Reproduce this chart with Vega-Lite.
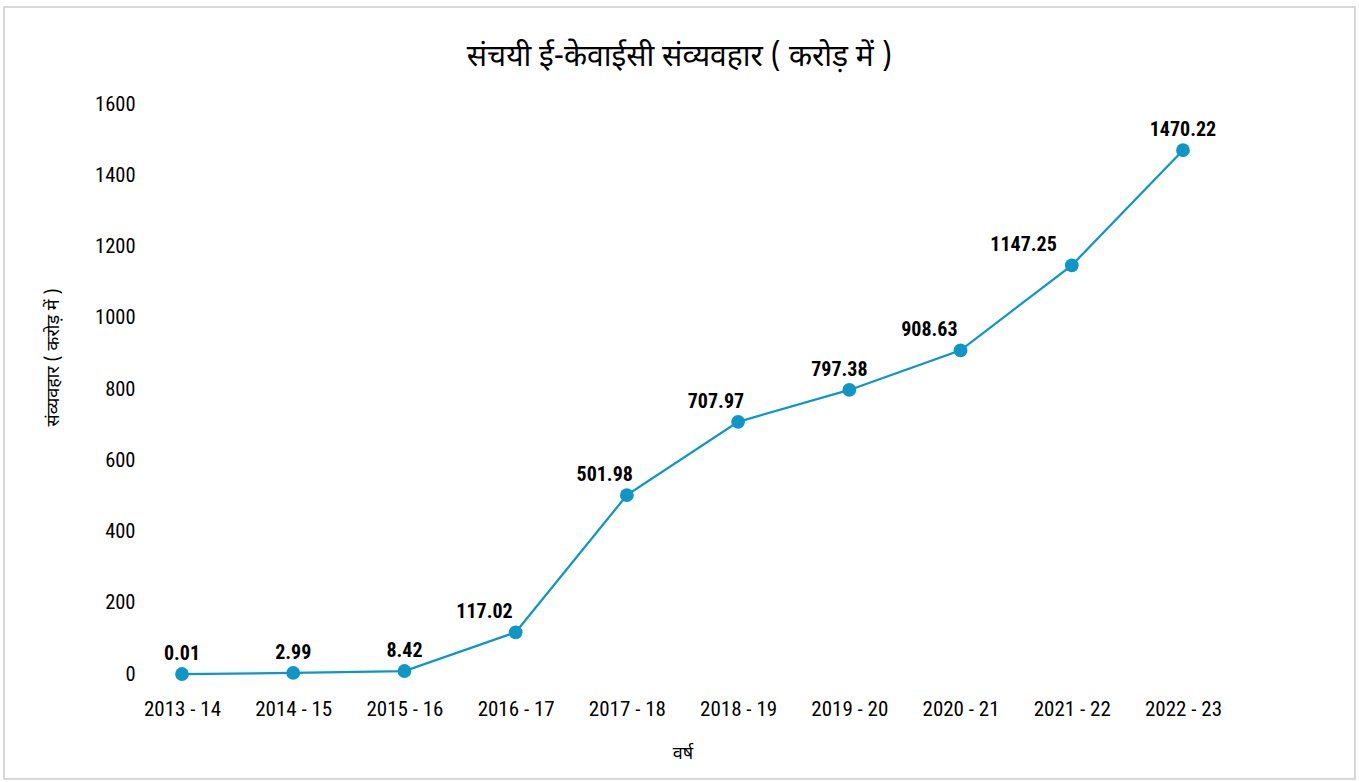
{
  "$schema": "https://vega.github.io/schema/vega-lite/v6.json",
  "width": 1351,
  "height": 772,
  "autosize": {"type": "none"},
  "padding": {"left": 4, "top": 7, "right": 4, "bottom": 3},
  "background": "white",
  "config": {
    "view": {"stroke": "#D9D9D9", "strokeWidth": 2},
    "font": "Roboto Condensed, Liberation Sans Narrow, Arial Narrow, DejaVu Sans Condensed, Roboto, sans-serif"
  },
  "title": {
    "text": "संचयी ई-केवाईसी संव्यवहार ( करोड़ में )",
    "fontSize": 30,
    "fontWeight": "normal",
    "color": "#000000",
    "font": "Noto Sans Devanagari, Noto Sans, sans-serif",
    "anchor": "middle",
    "offset": -65
  },
  "data": {
    "values": [
      {"year": "2013 - 14", "value": 0.01},
      {"year": "2014 - 15", "value": 2.99},
      {"year": "2015 - 16", "value": 8.42},
      {"year": "2016 - 17", "value": 117.02},
      {"year": "2017 - 18", "value": 501.98},
      {"year": "2018 - 19", "value": 707.97},
      {"year": "2019 - 20", "value": 797.38},
      {"year": "2020 - 21", "value": 908.63},
      {"year": "2021 - 22", "value": 1147.25},
      {"year": "2022 - 23", "value": 1470.22}
    ]
  },
  "encoding": {
    "x": {
      "field": "year",
      "type": "ordinal",
      "sort": null,
      "scale": {"type": "point", "range": [178, 1179], "padding": 0},
      "axis": {
        "title": "वर्ष",
        "titleFont": "Noto Sans Devanagari, Noto Sans, sans-serif",
        "titleFontSize": 18,
        "titleFontWeight": "normal",
        "titleColor": "#000000",
        "labelAngle": 0,
        "labelFontSize": 21,
        "labelColor": "#000000",
        "labelPadding": 0,
        "domain": false,
        "ticks": false,
        "grid": false,
        "offset": -81,
        "titlePadding": 25
      }
    },
    "y": {
      "field": "value",
      "type": "quantitative",
      "scale": {"domain": [-294.7, 1872.3], "nice": false, "zero": false},
      "axis": {
        "title": "संव्यवहार ( करोड़ में )",
        "titleFont": "Noto Sans Devanagari, Noto Sans, sans-serif",
        "titleFontSize": 18,
        "titleFontWeight": "normal",
        "titleColor": "#000000",
        "titleX": -87,
        "titleY": 350,
        "titleAngle": -90,
        "titleAlign": "center",
        "titleBaseline": "middle",
        "values": [0, 200, 400, 600, 800, 1000, 1200, 1400, 1600],
        "format": "d",
        "labelFontSize": 20.5,
        "labelColor": "#000000",
        "labelPadding": 5,
        "domain": false,
        "ticks": false,
        "grid": false,
        "offset": -136
      }
    }
  },
  "layer": [
    {"mark": {"type": "line", "color": "#0E96C6", "strokeWidth": 2.25}},
    {"mark": {"type": "point", "filled": true, "opacity": 1, "color": "#0E96C6", "size": 190}},
    {
      "transform": [{"filter": {"field": "year", "oneOf": ["2013 - 14", "2014 - 15", "2015 - 16", "2022 - 23"]}}],
      "mark": {"type": "text", "fontWeight": "bold", "fontSize": 20, "baseline": "bottom", "align": "center", "dy": -10, "color": "#000000"},
      "encoding": {"text": {"field": "value", "type": "quantitative", "format": ".2f"}}
    },
    {
      "transform": [{"filter": {"field": "year", "oneOf": ["2019 - 20"]}}],
      "mark": {"type": "text", "fontWeight": "bold", "fontSize": 20, "baseline": "bottom", "align": "center", "dy": -10, "dx": -10, "color": "#000000"},
      "encoding": {"text": {"field": "value", "type": "quantitative", "format": ".2f"}}
    },
    {
      "transform": [{"filter": {"field": "year", "oneOf": ["2016 - 17", "2020 - 21"]}}],
      "mark": {"type": "text", "fontWeight": "bold", "fontSize": 20, "baseline": "bottom", "align": "right", "dy": -10, "dx": -3, "color": "#000000"},
      "encoding": {"text": {"field": "value", "type": "quantitative", "format": ".2f"}}
    },
    {
      "transform": [{"filter": {"field": "year", "oneOf": ["2017 - 18", "2018 - 19"]}}],
      "mark": {"type": "text", "fontWeight": "bold", "fontSize": 20, "baseline": "bottom", "align": "right", "dy": -10, "dx": 6, "color": "#000000"},
      "encoding": {"text": {"field": "value", "type": "quantitative", "format": ".2f"}}
    },
    {
      "transform": [{"filter": {"field": "year", "oneOf": ["2021 - 22"]}}],
      "mark": {"type": "text", "fontWeight": "bold", "fontSize": 20, "baseline": "bottom", "align": "right", "dy": -10, "dx": -15, "color": "#000000"},
      "encoding": {"text": {"field": "value", "type": "quantitative", "format": ".2f"}}
    }
  ]
}
